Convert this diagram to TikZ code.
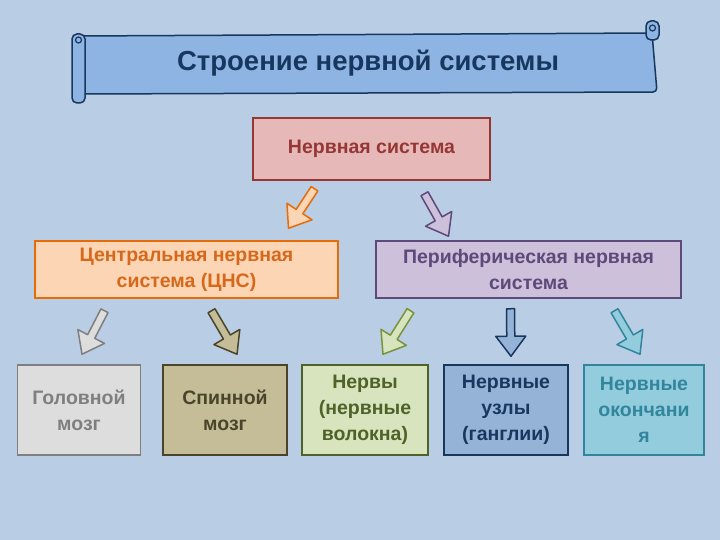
\documentclass[tikz,border=0pt]{standalone}
\usepackage{fontspec}
\setmainfont{Liberation Sans}
\usetikzlibrary{calc}

\definecolor{bgblue}{RGB}{185,205,229}
\definecolor{scrollfill}{RGB}{141,180,226}
\definecolor{navy}{RGB}{23,55,94}
\definecolor{redline}{RGB}{149,55,53}
\definecolor{redfill}{RGB}{230,185,184}
\definecolor{orline}{RGB}{228,108,10}
\definecolor{ortext}{RGB}{214,104,26}
\definecolor{orfill}{RGB}{252,213,181}
\definecolor{puline}{RGB}{95,73,122}
\definecolor{pufill}{RGB}{204,192,218}
\definecolor{grline}{RGB}{127,127,127}
\definecolor{grfill}{RGB}{221,221,221}
\definecolor{khline}{RGB}{74,69,42}
\definecolor{khfill}{RGB}{196,189,151}
\definecolor{gnline}{RGB}{79,98,40}
\definecolor{gnarrow}{RGB}{119,147,60}
\definecolor{gnfill}{RGB}{215,228,189}
\definecolor{nvfill}{RGB}{149,179,215}
\definecolor{tlline}{RGB}{49,133,156}
\definecolor{tlfill}{RGB}{147,205,221}

\tikzset{
  box/.style={draw, line width=1.5pt, font=\bfseries\fontsize{19.5}{26}\selectfont,
    align=center, inner sep=0pt},
  lowbox/.style={box, minimum height=90, text width=120},
  blk/.style={line width=1.5pt, line join=round}
}

% block arrow from #2 to #3
\newcommand{\blkarrow}[3]{%
  \coordinate (bh) at ($(#3)!20pt!(#2)$);
  \draw[blk,#1] ($(#2)!4pt!90:(#3)$) -- ($(bh)!4pt!90:(#3)$)
    -- ($(bh)!15pt!90:(#3)$) -- (#3) -- ($(bh)!15pt!-90:(#3)$)
    -- ($(bh)!4pt!-90:(#3)$) -- ($(#2)!4pt!-90:(#3)$) -- cycle;}

\begin{document}
\begin{tikzpicture}[x=1pt,y=-1pt]
  \useasboundingbox[fill=bgblue] (0,0) rectangle (720,540);

  % title scroll
  \draw[navy, fill=scrollfill, line width=1.5pt, rounded corners=4]
    (80,36) -- (652,33) -- (657,92) -- (80,94) -- cycle;
  \draw[navy, fill=scrollfill, line width=1.5pt, rounded corners=5]
    (72,34) rectangle (85,103);
  \draw[navy, line width=1.2pt] (78.5,40) circle (3);
  \draw[navy, fill=scrollfill, line width=1.5pt, rounded corners=5]
    (646,21) rectangle (659,40);
  \draw[navy, line width=1.2pt] (652.5,28) circle (3);
  \node[font=\bfseries\fontsize{27.5}{32}\selectfont, text=navy] (title) at (368,63)
    {Строение нервной системы};

  % top level
  \node[box, draw=redline, fill=redfill, text=redline,
    minimum width=237, minimum height=62] (ns) at (371.5,149) {Нервная система};

  % second level
  \node[box, draw=orline, fill=orfill, text=ortext,
    minimum width=303, minimum height=57] (cns) at (186.5,269.5)
    {Центральная нервная\\система (ЦНС)};
  \node[box, draw=puline, fill=pufill, text=puline,
    minimum width=305, minimum height=57] (pns) at (528.5,269.5)
    {Периферическая нервная\\система};

  % third level
  \node[lowbox, draw=grline, fill=grfill, text=grline,
    minimum width=123] (gm) at (79,410) {Головной\\мозг};
  \node[lowbox, draw=khline, fill=khfill, text=khline,
    minimum width=124] (sm) at (225,410) {Спинной\\мозг};
  \node[lowbox, draw=gnline, fill=gnfill, text=gnline,
    minimum width=126] (nv) at (365,410) {Нервы\\(нервные\\волокна)};
  \node[lowbox, draw=navy, fill=nvfill, text=navy,
    minimum width=124] (uz) at (506,410) {Нервные\\узлы\\(ганглии)};
  \node[lowbox, draw=tlline, fill=tlfill, text=tlline,
    minimum width=119] (ok) at (644,410) {Нервные\\окончани\\я};

  % arrow ends
  \coordinate (a1) at ($(ns.south)+(-57,8)$);
  \coordinate (b1) at ($(cns.north)+(102,-12)$);
  \coordinate (a2) at ($(ns.south)+(53,13)$);
  \coordinate (b2) at ($(pns.north)+(-80,-4)$);
  \coordinate (a3) at ($(cns.south)+(-82,12)$);
  \coordinate (b3) at ($(gm.north)+(3,-10)$);
  \coordinate (a4) at ($(cns.south)+(25,12)$);
  \coordinate (b4) at ($(sm.north)+(12,-10)$);
  \coordinate (a5) at ($(pns.south)+(-118,12)$);
  \coordinate (b5) at ($(nv.north)+(18,-10)$);
  \coordinate (a6) at ($(pns.south)+(-18,10)$);
  \coordinate (b6) at ($(uz.north)+(5,-8)$);
  \coordinate (a7) at ($(pns.south)+(86,12)$);
  \coordinate (b7) at ($(ok.north)+(-4,-10)$);

  \blkarrow{draw=orline, fill=orfill}{a1}{b1}
  \blkarrow{draw=puline, fill=pufill}{a2}{b2}
  \blkarrow{draw=grline, fill=grfill}{a3}{b3}
  \blkarrow{draw=khline, fill=khfill}{a4}{b4}
  \blkarrow{draw=gnarrow, fill=gnfill}{a5}{b5}
  \blkarrow{draw=navy, fill=nvfill}{a6}{b6}
  \blkarrow{draw=tlline, fill=tlfill}{a7}{b7}
\end{tikzpicture}
\end{document}
